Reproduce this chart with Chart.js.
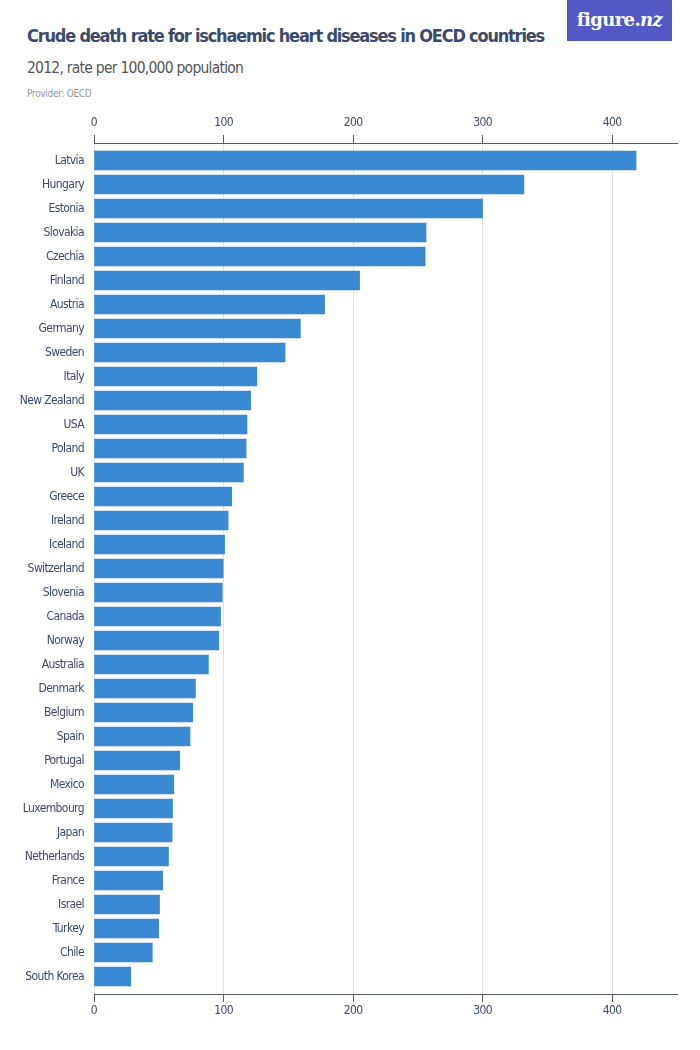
<!DOCTYPE html>
<html>
<head>
<meta charset="utf-8">
<script src="https://cdn.jsdelivr.net/npm/chart.js@4/dist/chart.umd.min.js"></script>
<style>
  body { margin: 0; width: 700px; height: 1050px; background: #fff; position: relative; overflow: hidden;
         font-family: "DejaVu Sans Condensed", "Roboto", sans-serif; }
  #title { position: absolute; left: 27px; top: 25px; font-size: 18px; letter-spacing: -1.2px; color: #3b4a6b; font-weight: bold; white-space: nowrap; }
  #subtitle { position: absolute; left: 27px; top: 59px; font-size: 15.5px; letter-spacing: -0.75px; color: #555; white-space: nowrap; }
  #provider { position: absolute; left: 27px; top: 88px; font-size: 10px; letter-spacing: -0.3px; color: #999; white-space: nowrap; }
  #logo { position: absolute; left: 567px; top: 0; width: 105px; height: 41px; background: #5359c4;
          color: #fff; font-family: "DejaVu Serif", "Liberation Serif", serif; font-size: 18px; font-weight: bold;
          letter-spacing: -0.6px; text-align: center; line-height: 39px; }
  #wrap { position: absolute; left: 0; top: 100px; width: 700px; height: 930px; }
</style>
</head>
<body>
<div id="title">Crude death rate for ischaemic heart diseases in OECD countries</div>
<div id="subtitle">2012, rate per 100,000 population</div>
<div id="provider">Provider: OECD</div>
<div id="logo">figure.<i>nz</i></div>
<div id="wrap"><canvas id="chart"></canvas></div>
<script>
const countries = ["Latvia", "Hungary", "Estonia", "Slovakia", "Czechia", "Finland", "Austria", "Germany",
  "Sweden", "Italy", "New Zealand", "USA", "Poland", "UK", "Greece", "Ireland", "Iceland", "Switzerland",
  "Slovenia", "Canada", "Norway", "Australia", "Denmark", "Belgium", "Spain", "Portugal", "Mexico",
  "Luxembourg", "Japan", "Netherlands", "France", "Israel", "Turkey", "Chile", "South Korea"];
const rates = [418.4, 331.8, 299.9, 256.3, 255.6, 205.0, 178.0, 159.3, 147.5, 125.7, 120.9, 118.1, 117.4,
  115.3, 106.3, 103.5, 100.8, 99.7, 99.0, 97.7, 96.3, 88.3, 78.3, 76.2, 74.1, 66.1, 61.6, 60.6, 60.3,
  57.5, 53.0, 50.6, 49.9, 45.0, 28.4];
const xTicks = [0, 100, 200, 300, 400];

const labelFont = { family: "'DejaVu Sans Condensed', Roboto, sans-serif", size: 12 };
const axisColor = "#555c66";
const textColor = "#3b4a6b";

// y is a linear index scale so the bars can sit a little in from the axis lines
const points = rates.map((v, i) => ({ x: v, y: i }));
const pad = 0.5 + 5.5 / 24;

// tighten the canvas text a bit, the original uses a condensed face
const tightText = {
  id: "tightText",
  beforeLayout: (chart) => { chart.ctx.letterSpacing = "-0.6px"; },
  beforeDraw: (chart) => { chart.ctx.letterSpacing = "-0.6px"; },
};

new Chart(document.getElementById("chart"), {
  type: "bar",
  data: {
    datasets: [{
      data: points,
      backgroundColor: "#3a89d3",
      barThickness: 19,
      xAxisID: "x",
      yAxisID: "y",
    }]
  },
  options: {
    indexAxis: "y",
    animation: false,
    responsive: true,
    maintainAspectRatio: false,
    layout: { padding: { top: 0, right: 23, bottom: 0, left: 0 } },
    plugins: { legend: { display: false }, tooltip: { enabled: false } },
    scales: {
      x: {
        type: "linear",
        position: "top",
        min: 0,
        max: 450,
        afterBuildTicks: (scale) => { scale.ticks = xTicks.map(v => ({ value: v })); },
        afterFit: (scale) => { scale.height = 43; },
        grid: { color: "#e2e2e2", tickColor: axisColor, tickLength: 8, lineWidth: 1 },
        border: { color: axisColor, width: 1 },
        ticks: { color: textColor, font: labelFont, padding: 5, maxRotation: 0 },
      },
      x2: {
        type: "linear",
        position: "bottom",
        min: 0,
        max: 450,
        afterBuildTicks: (scale) => { scale.ticks = xTicks.map(v => ({ value: v })); },
        afterFit: (scale) => { scale.height = 36; },
        grid: { drawOnChartArea: false, tickColor: axisColor, tickLength: 8 },
        border: { color: axisColor, width: 1 },
        ticks: { color: textColor, font: labelFont, padding: 2, maxRotation: 0 },
      },
      y: {
        type: "linear",
        reverse: true,
        offset: false,
        min: -pad,
        max: countries.length - 1 + pad,
        afterBuildTicks: (scale) => { scale.ticks = countries.map((c, i) => ({ value: i })); },
        afterFit: (scale) => { scale.width = 94; },
        grid: { display: false, drawTicks: false },
        border: { display: false },
        ticks: {
          color: textColor,
          font: labelFont,
          padding: 10,
          autoSkip: false,
          callback: (v) => countries[v],
        },
      },
    },
  },
  plugins: [tightText],
});
</script>
</body>
</html>
